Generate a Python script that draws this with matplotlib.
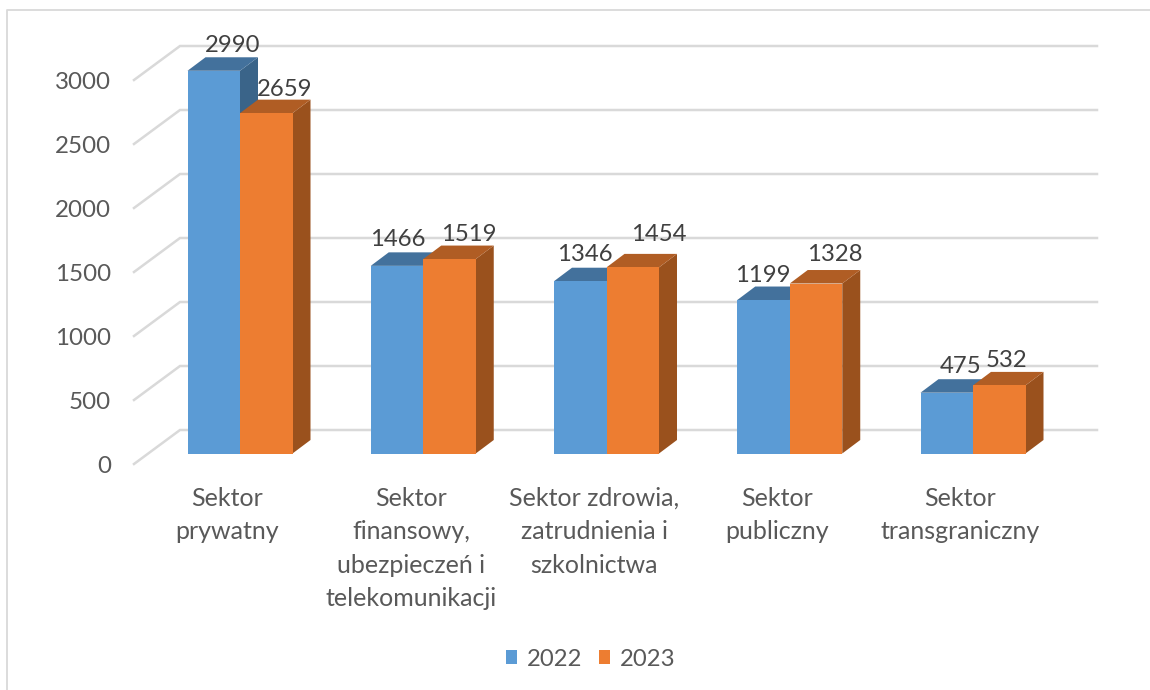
import matplotlib
matplotlib.use("Agg")
import matplotlib.pyplot as plt
from matplotlib.patches import Polygon, Rectangle

categories = ["Sektor\nprywatny", "Sektor\nfinansowy,\nubezpieczeń i\ntelekomunikacji",
              "Sektor zdrowia,\nzatrudnienia i\nszkolnictwa", "Sektor\npubliczny", "Sektor\ntransgraniczny"]
values_2022 = [2990, 1466, 1346, 1199, 475]
values_2023 = [2659, 1519, 1454, 1328, 532]
yticks = [0, 500, 1000, 1500, 2000, 2500, 3000]
series = ["2022", "2023"]

W, H = 1150, 690
PX_CAT = 183.25
PX_VAL = 0.128
X0, Y0 = 240, 453.5
plt.rcParams['font.family'] = ['Lato', 'DejaVu Sans']

fig = plt.figure(figsize=(W/100, H/100), dpi=100)
ax = fig.add_axes([0, 0, 1, 1])
ax.set_xlim(-X0/PX_CAT, (W-X0)/PX_CAT)
ax.set_ylim(-(H-Y0)/PX_VAL, Y0/PX_VAL)
ax.axis("off")

def dx(p): return p/PX_CAT
def dy(p): return p/PX_VAL
def cx(px): return (px-X0)/PX_CAT
def vy(px): return (Y0-px)/PX_VAL

# chart frame: only left and top edges are visible
frame = "#d9d9d9"
ax.plot([cx(7), cx(7), cx(1150)], [vy(690), vy(10), vy(10)], color=frame, lw=1.3, zorder=1)

# gridlines: floor-edge diagonal + back wall
for t in yticks:
    ax.plot([cx(134), cx(180), cx(1097)],
            [t + dy(-10.5), t + dy(23.5), t + dy(23.5)],
            color="#d9d9d9", lw=1.8, zorder=1, solid_joinstyle="miter")
    ax.text(cx(111), t + dy(-13), str(t), ha="right", va="center", fontsize=17.4, color="#595959")

BW = 52.5/PX_CAT
DX, DY = dx(18), dy(13.5)
styles = [("#5b9bd5", "#43719c", "#3a6489"), ("#ed7d31", "#b05d24", "#9a511d")]

def bar(left, v, cols, z):
    front, top, side = cols
    r = left + BW
    ax.add_patch(Polygon([(r, 0), (r+DX, DY), (r+DX, v+DY), (r, v)], closed=True, fc=side, ec="none", zorder=z))
    ax.add_patch(Polygon([(left, v), (r, v), (r+DX, v+DY), (left+DX, v+DY)], closed=True, fc=top, ec="none", zorder=z))
    ax.add_patch(Rectangle((left, 0), BW, v, fc=front, ec="none", zorder=z))

for i, (a, b) in enumerate(zip(values_2022, values_2023)):
    bar(i-BW, a, styles[0], 2+i)
    bar(i, b, styles[1], 2+i+0.5)

# hand-placed data labels, offsets in pixels from the front top-left corner of each bar
off_2022 = [(45, 27), (27, 28), (31, 29), (26, 27), (40, 28)]
off_2023 = [(45, 26), (46, 27), (52, 35), (45, 31), (34, 27)]
for i, (a, b) in enumerate(zip(values_2022, values_2023)):
    ox, oy = off_2022[i]
    ax.text(i-BW+dx(ox), a+dy(oy-2), str(a), ha="center", va="center", fontsize=17.2, color="#404040", zorder=10)
    ox, oy = off_2023[i]
    ax.text(i+dx(ox), b+dy(oy-2), str(b), ha="center", va="center", fontsize=17.2, color="#404040", zorder=10)

lab_x = [227, 411, 594, 777, 960]
for lx, c in zip(lab_x, categories):
    ax.text(cx(lx), vy(487), c, ha="center", va="top", fontsize=18, color="#595959", linespacing=1.55)

# legend
for px, name, col in zip([506, 599], series, ["#5b9bd5", "#ed7d31"]):
    ax.add_patch(Rectangle((cx(px), vy(664)), dx(11), dy(14), fc=col, ec="none"))
    ax.text(cx(px+21), vy(659), name, ha="left", va="center", fontsize=17.2, color="#595959")

fig.savefig("out.png", dpi=100)
